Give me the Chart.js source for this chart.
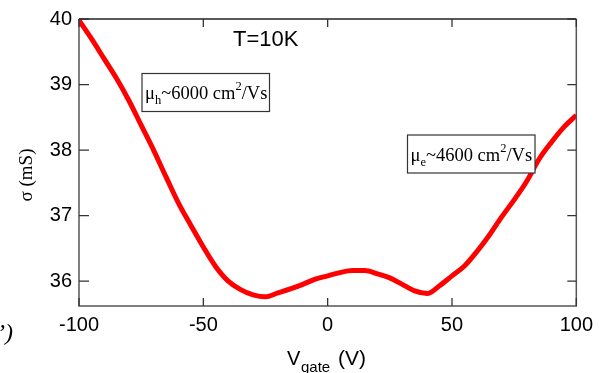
<!DOCTYPE html>
<html>
<head>
<meta charset="utf-8">
<script src="https://cdn.jsdelivr.net/npm/chart.js@4/dist/chart.umd.min.js"></script>
<style>
  html, body { margin: 0; padding: 0; background: #fff; }
  canvas { display: block; }
</style>
</head>
<body>
<canvas id="chartCanvas" width="600" height="373"></canvas>
<script>
// gate voltage (V) and conductivity (mS)
const gate = [-100, -95, -90, -85, -80, -75, -70, -65, -60, -55, -50, -45, -40, -35, -30, -25, -20, -15, -10, -5,
    0, 5, 10, 15, 20, 25, 30, 35, 40, 45, 50, 55, 60, 65, 70, 75, 80, 85, 90, 95, 100];
const sigma = [39.98, 39.70, 39.40, 39.10, 38.76, 38.38, 38.00, 37.59, 37.19, 36.85, 36.52, 36.22, 36.00, 35.87, 35.79, 35.76, 35.82, 35.88, 35.95, 36.03,
    36.08, 36.13, 36.16, 36.16, 36.11, 36.05, 35.95, 35.85, 35.81, 35.93, 36.08, 36.23, 36.45, 36.70, 36.98, 37.24, 37.52, 37.86, 38.12, 38.35, 38.53];

const xTicks = [-100, -50, 0, 50, 100];
const yTicks = [36, 37, 38, 39, 40];
const yMin = 35.62;
const yMax = 40;

const frameColor = '#555';

// frame, inward ticks and the text annotations
const decorations = {
    id: 'decorations',
    afterDraw(chart) {
        const ctx = chart.ctx;
        const xs = chart.scales.x;
        const ys = chart.scales.y;
        const a = chart.chartArea;
        ctx.save();

        // frame
        ctx.lineWidth = 1.5;
        ctx.strokeStyle = '#222';
        ctx.beginPath();
        ctx.moveTo(a.left, a.top);
        ctx.lineTo(a.right, a.top);
        ctx.stroke();
        ctx.strokeStyle = frameColor;
        ctx.beginPath();
        ctx.moveTo(a.left, a.top);
        ctx.lineTo(a.left, a.bottom);
        ctx.lineTo(a.right, a.bottom);
        ctx.lineTo(a.right, a.top);
        ctx.stroke();

        // inward ticks
        ctx.lineWidth = 1.3;
        ctx.strokeStyle = '#333';
        ctx.beginPath();
        yTicks.forEach(v => {
            const y = ys.getPixelForValue(v);
            ctx.moveTo(a.left, y); ctx.lineTo(a.left + 10, y);
            ctx.moveTo(a.right, y); ctx.lineTo(a.right - 9, y);
        });
        xTicks.forEach(v => {
            const x = xs.getPixelForValue(v);
            ctx.moveTo(x, a.bottom); ctx.lineTo(x, a.bottom - 8);
            ctx.moveTo(x, a.top); ctx.lineTo(x, a.top + 8);
        });
        ctx.stroke();

        ctx.fillStyle = '#000';
        ctx.textBaseline = 'alphabetic';
        ctx.textAlign = 'left';

        // temperature label
        ctx.font = '22px "Liberation Sans", Arial, sans-serif';
        ctx.fillText('T=10K', 233, 46);

        // mobility boxes
        drawMobility(ctx, 'h', '6000', 142, 73.5, 127.5, 38);
        drawMobility(ctx, 'e', '4600', 407.5, 135, 127.5, 38);

        // x axis title
        ctx.font = '20px "Liberation Sans", Arial, sans-serif';
        ctx.fillText('V', 287, 365);
        ctx.font = '15px "Liberation Sans", Arial, sans-serif';
        ctx.fillText('gate', 301, 372);
        ctx.font = '21px "Liberation Sans", Arial, sans-serif';
        ctx.fillText('(V)', 338, 365);

        // y axis title
        ctx.save();
        ctx.translate(32, 175);
        ctx.rotate(-Math.PI / 2);
        ctx.textAlign = 'center';
        ctx.font = '19px "Liberation Serif", "Times New Roman", serif';
        ctx.fillText('σ (mS)', 0, 0);
        ctx.restore();

        // leftover glyphs at the left edge
        ctx.font = 'italic 24px "Liberation Serif", "Times New Roman", serif';
        ctx.fillText('’)', -3, 340);

        ctx.restore();
    }
};

function drawMobility(ctx, sub, num, x, y, w, h) {
    ctx.save();
    ctx.fillStyle = '#fff';
    ctx.fillRect(x, y, w, h);
    ctx.strokeStyle = '#333';
    ctx.lineWidth = 1.2;
    ctx.strokeRect(x, y, w, h);
    ctx.fillStyle = '#000';
    const base = y + 25.5;
    const big = '18.5px "Liberation Serif", "Times New Roman", serif';
    const small = '12.5px "Liberation Serif", "Times New Roman", serif';
    let cx = x + 3;
    ctx.font = big; ctx.fillText('μ', cx, base); cx += ctx.measureText('μ').width;
    ctx.font = small; ctx.fillText(sub, cx, base + 5); cx += ctx.measureText(sub).width;
    ctx.font = big;
    const mid = '~' + num + ' cm';
    ctx.fillText(mid, cx, base); cx += ctx.measureText(mid).width;
    ctx.font = small; ctx.fillText('2', cx, base - 9); cx += ctx.measureText('2').width;
    ctx.font = big; ctx.fillText('/Vs', cx, base);
    ctx.restore();
}

const ctx = document.getElementById('chartCanvas').getContext('2d');

window.myChart = new Chart(ctx, {
    type: 'line',
    data: {
        datasets: [{
            label: 'sigma',
            data: gate.map((g, i) => ({ x: g, y: sigma[i] })),
            borderColor: '#ff0000',
            backgroundColor: '#ff0000',
            borderWidth: 5,
            pointRadius: 0,
            cubicInterpolationMode: 'monotone',
            fill: false
        }]
    },
    options: {
        responsive: false,
        devicePixelRatio: 1,
        animation: false,
        layout: { padding: { left: 0, right: 21, top: 14, bottom: 0 } },
        plugins: {
            legend: { display: false },
            tooltip: { enabled: false }
        },
        scales: {
            x: {
                type: 'linear',
                min: -100,
                max: 100,
                afterFit: s => { s.height = 67; },
                afterBuildTicks: s => { s.ticks = xTicks.map(v => ({ value: v })); },
                grid: { display: false, drawTicks: false },
                border: { display: false },
                ticks: {
                    padding: 7,
                    color: '#000',
                    maxRotation: 0,
                    font: { family: '"Liberation Sans", Arial, sans-serif', size: 20 }
                }
            },
            y: {
                type: 'linear',
                min: yMin,
                max: yMax,
                afterFit: s => { s.width = 79; },
                afterBuildTicks: s => { s.ticks = yTicks.map(v => ({ value: v })); },
                grid: { display: false, drawTicks: false },
                border: { display: false },
                ticks: {
                    padding: 7,
                    color: '#000',
                    font: { family: '"Liberation Sans", Arial, sans-serif', size: 20 }
                }
            }
        }
    },
    plugins: [decorations]
});
</script>
</body>
</html>
